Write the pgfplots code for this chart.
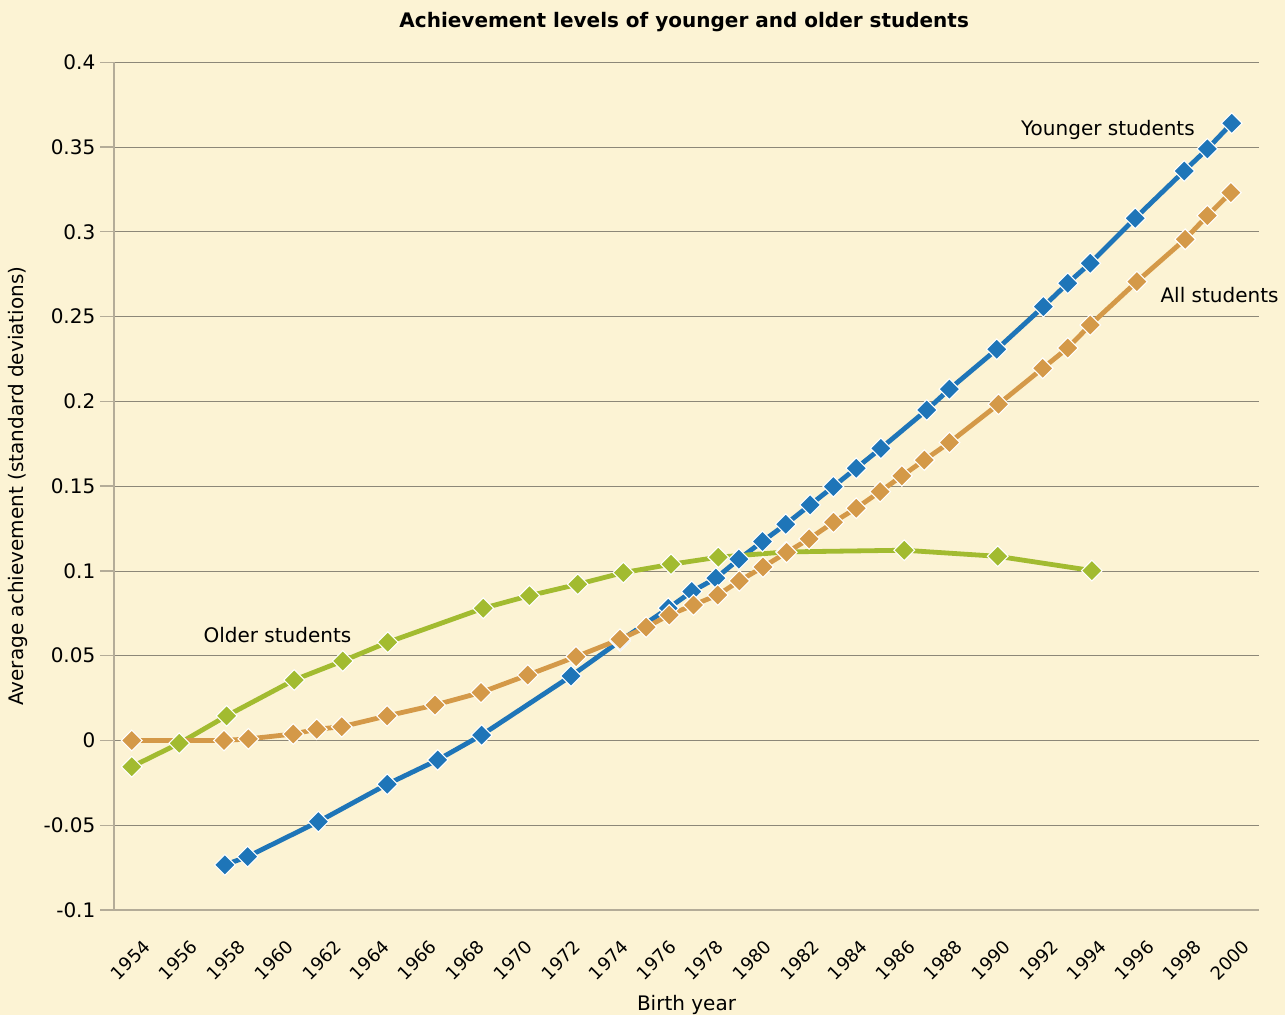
\documentclass[border=0pt]{standalone}
\usepackage{pgfplots}
\pgfplotsset{compat=1.18}
\usepackage{pgfplotstable}
\usepackage{fontspec}
\setmainfont{DejaVu Sans}
\definecolor{bg}{RGB}{252,243,212}
\definecolor{cblue}{RGB}{30,117,184}
\definecolor{corange}{RGB}{212,153,72}
\definecolor{cgreen}{RGB}{162,187,48}
\definecolor{gridc}{RGB}{140,135,120}
\definecolor{axc}{RGB}{180,172,152}
\newcommand{\lbl}{\fontsize{15}{17}\selectfont}
\newcommand{\xlbl}{\fontsize{13.5}{16}\selectfont}

\pgfplotstableread{
x y
1957.90 -0.0734
1958.85 -0.0685
1961.81 -0.0479
1964.69 -0.0258
1966.80 -0.0115
1968.64 0.0032
1972.38 0.0380
1974.43 0.0587
1976.45 0.0780
1977.43 0.0878
1978.44 0.0957
1979.40 0.1069
1980.39 0.1174
1981.36 0.1275
1982.38 0.1389
1983.35 0.1497
1984.31 0.1606
1985.34 0.1723
1987.26 0.1949
1988.21 0.2072
1990.19 0.2307
1992.14 0.2559
1993.16 0.2697
1994.10 0.2815
1995.98 0.3080
1998.03 0.3359
1999.00 0.3489
2000.02 0.3640
}\younger

\pgfplotstableread{
x y
1954.00 -0.0155
1955.99 -0.0017
1957.97 0.0145
1960.80 0.0357
1962.83 0.0469
1964.71 0.0579
1968.71 0.0780
1970.64 0.0854
1972.66 0.0921
1974.57 0.0990
1976.56 0.1039
1978.54 0.1081
1981.38 0.1112
1986.32 0.1122
1990.23 0.1086
1994.17 0.1002
}\older

\pgfplotstableread{
x y
1954.00 0.0000
1957.86 0.0000
1958.88 0.0009
1960.76 0.0038
1961.74 0.0066
1962.79 0.0081
1964.69 0.0145
1966.69 0.0209
1968.61 0.0283
1970.57 0.0386
1972.59 0.0494
1974.43 0.0597
1975.52 0.0668
1976.49 0.0740
1977.50 0.0799
1978.52 0.0858
1979.42 0.0941
1980.41 0.1023
1981.40 0.1109
1982.34 0.1189
1983.36 0.1287
1984.31 0.1370
1985.31 0.1468
1986.22 0.1560
1987.16 0.1654
1988.21 0.1757
1990.26 0.1983
1992.11 0.2195
1993.16 0.2315
1994.10 0.2451
1996.05 0.2706
1998.07 0.2956
1999.00 0.3095
1999.98 0.3231
}\allst

\begin{document}
\begin{tikzpicture}
\fill[bg] (-85.5pt,-78.75pt) rectangle (878.25pt,682.5pt);
\path[use as bounding box] (-85.5pt,-78.75pt) rectangle (878.25pt,682.5pt);
\begin{axis}[
  at={(0pt,0pt)}, anchor=south west, scale only axis,
  width=858.75pt, height=635.8pt,
  xmin=1953.26, xmax=2001.16, ymin=-0.1, ymax=0.4,
  axis lines*=left,
  axis line style={axc, line width=1.6pt},
  clip=false,
  ytick={-0.1,-0.05,0,0.05,0.1,0.15,0.2,0.25,0.3,0.35,0.4},
  yticklabels={-0.1,-0.05,0,0.05,0.1,0.15,0.2,0.25,0.3,0.35,0.4},
  xtick={1954,1956,1958,1960,1962,1964,1966,1968,1970,1972,1974,1976,1978,1980,1982,1984,1986,1988,1990,1992,1994,1996,1998,2000},
  xticklabels={1954,1956,1958,1960,1962,1964,1966,1968,1970,1972,1974,1976,1978,1980,1982,1984,1986,1988,1990,1992,1994,1996,1998,2000},
  ymajorgrids,
  grid style={gridc, line width=0.6pt},
  tick align=outside,
  major tick length=10.5pt,
  xtick style={draw=none},
  ytick style={axc, line width=1pt},
  yticklabel style={font=\lbl},
  xticklabel style={font=\xlbl, rotate=45, anchor=east, inner sep=1pt, xshift=-1.5pt, yshift=-18.5pt},
  title={\bfseries Achievement levels of younger and older students},
  title style={font=\lbl, at={(axis description cs:0.498,1.0475)}, anchor=center, yshift=-6pt},
  xlabel={Birth year},
  xlabel style={font=\lbl, at={(axis description cs:0.5,-0.1121)}, anchor=center},
  ylabel={Average achievement (standard deviations)},
  ylabel style={font=\lbl, at={(axis description cs:-0.0838,0.5)}, anchor=center},
]
\addplot[cblue, line width=3.6pt, line join=round, no markers] table {\younger};
\addplot[cgreen, line width=3.6pt, line join=round, no markers] table {\older};
\addplot[corange, line width=3.6pt, line join=round, no markers] table {\allst};
\addplot[only marks, mark=square*, mark size=5.5pt, mark options={rotate=45, fill=cblue, draw=white, line width=0.8pt}] table {\younger};
\addplot[only marks, mark=square*, mark size=5.5pt, mark options={rotate=45, fill=cgreen, draw=white, line width=0.8pt}] table {\older};
\addplot[only marks, mark=square*, mark size=5.5pt, mark options={rotate=45, fill=corange, draw=white, line width=0.8pt}] table {\allst};
\node[font=\lbl] at (axis cs:1994.84,0.3601) {Younger students};
\node[font=\lbl] at (axis cs:1999.51,0.2628) {All students};
\node[font=\lbl] at (axis cs:1960.10,0.0622) {Older students};
\end{axis}
\end{tikzpicture}
\end{document}
